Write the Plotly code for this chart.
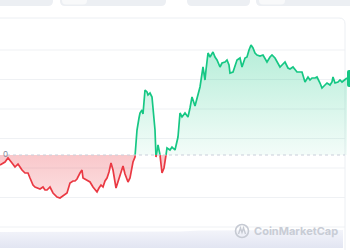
import plotly.graph_objects as go

# ---- data ----
t = [0, 3, 5, 8, 10, 12, 15, 18, 20, 22, 25, 28, 30, 33, 35, 37, 40, 43, 45, 47,
     50, 53, 55, 57, 60, 63, 65, 67, 70, 73, 75, 77, 80, 82, 83, 85, 87, 90, 93, 95,
     97, 99, 101, 103, 105, 107, 109, 111, 113, 116, 118, 120, 123, 125, 128, 130, 133, 135, 136, 137,
     139, 140, 142, 143, 145, 147, 148, 150, 152, 154, 155, 156, 158, 160, 162, 164, 166, 167, 170, 172,
     175, 177, 178, 180, 182, 185, 188, 190, 192, 195, 198, 200, 203, 205, 206, 208, 210, 213, 215, 217,
     220, 222, 225, 227, 229, 230, 233, 235, 237, 240, 242, 245, 247, 249, 251, 253, 255, 257, 260, 263,
     265, 267, 270, 272, 275, 277, 280, 283, 285, 288, 290, 293, 297, 300, 302, 305, 308, 310, 312, 315,
     317, 320, 322, 325, 327, 330, 332, 333, 335, 338, 340, 342, 345, 347]
price = [85, 87, 88, 92, 90, 87, 83, 86, 83, 80, 77, 77, 72, 65, 63, 62, 61, 63, 60, 60,
         63, 57, 55, 53, 52, 54, 55, 57, 67, 69, 69, 71, 77, 80, 72, 71, 70, 68, 63, 61,
         58, 62, 65, 63, 69, 72, 78, 87, 80, 62, 68, 76, 84, 76, 68, 72, 88, 93, 110, 120,
         132, 137, 140, 136, 160, 158, 155, 157, 153, 135, 120, 93, 105, 95, 77, 82, 95, 102, 100, 103,
         100, 110, 113, 137, 133, 137, 133, 142, 153, 144, 155, 163, 183, 170, 180, 197, 193, 198, 193, 190,
         183, 187, 188, 190, 185, 177, 178, 184, 190, 192, 183, 192, 193, 200, 205, 202, 197, 195, 194, 195,
         191, 188, 193, 195, 192, 188, 183, 186, 188, 182, 181, 183, 178, 178, 178, 168, 173, 170, 172, 172,
         173, 167, 162, 165, 167, 165, 168, 173, 167, 168, 170, 168, 170, 172]
open_price = 95
grid_vals = [200, 170.5, 141, 111.5, 82, 52.5, 23]
nav_t = [0, 60, 120, 180, 200, 240, 300, 343]
nav_top = [18, 18, 18.5, 18.5, 19.5, 20, 20, 20]
nav_bottom = 2
open_label = "0"

GREEN = "#16c784"
RED = "#ea3943"

# insert baseline crossings so colours switch exactly at the open price
xs, ys = [t[0]], [price[0]]
for i in range(1, len(t)):
    x0, y0, x1, y1 = t[i - 1], price[i - 1], t[i], price[i]
    if (y0 - open_price) * (y1 - open_price) < 0:
        xc = x0 + (open_price - y0) * (x1 - x0) / (y1 - y0)
        xs.append(xc)
        ys.append(open_price)
    xs.append(x1)
    ys.append(y1)

up = [max(v, open_price) for v in ys]
dn = [min(v, open_price) for v in ys]
up_line = [v if v >= open_price else None for v in ys]
dn_line = [v if v <= open_price else None for v in ys]
base = [open_price] * len(xs)

fig = go.Figure()

# navigator strip at bottom
fig.add_trace(go.Scatter(x=nav_t, y=[nav_bottom] * len(nav_t), mode="lines",
                         line=dict(width=0), hoverinfo="skip", showlegend=False))
fig.add_trace(go.Scatter(x=nav_t, y=nav_top, mode="lines", line=dict(width=0),
                         fill="tonexty",
                         fillgradient=dict(type="vertical",
                                           colorscale=[[0, "#e2e5f2"], [1, "#f3f4fa"]]),
                         hoverinfo="skip", showlegend=False))

# green fill above open
fig.add_trace(go.Scatter(x=xs, y=base, mode="lines", line=dict(width=0),
                         hoverinfo="skip", showlegend=False))
fig.add_trace(go.Scatter(x=xs, y=up, mode="lines", line=dict(width=0), fill="tonexty",
                         fillgradient=dict(type="vertical", start=open_price, stop=max(price),
                                           colorscale=[[0, "rgba(22,199,132,0.05)"],
                                                       [1, "rgba(22,199,132,0.32)"]]),
                         hoverinfo="skip", showlegend=False))
# red fill below open
fig.add_trace(go.Scatter(x=xs, y=base, mode="lines", line=dict(width=0),
                         hoverinfo="skip", showlegend=False))
fig.add_trace(go.Scatter(x=xs, y=dn, mode="lines", line=dict(width=0), fill="tonexty",
                         fillgradient=dict(type="vertical", start=min(price), stop=open_price,
                                           colorscale=[[0, "rgba(234,57,67,0.16)"],
                                                       [1, "rgba(234,57,67,0.28)"]]),
                         hoverinfo="skip", showlegend=False))

# lines
fig.add_trace(go.Scatter(x=xs, y=up_line, mode="lines", connectgaps=False,
                         line=dict(color=GREEN, width=1.7), showlegend=False))
fig.add_trace(go.Scatter(x=xs, y=dn_line, mode="lines", connectgaps=False,
                         line=dict(color=RED, width=1.7), showlegend=False))

shapes = []
# grid lines
for g in grid_vals:
    shapes.append(dict(type="line", x0=0, x1=345, y0=g, y1=g, layer="below",
                       line=dict(color="#eff1f4", width=1)))
# dotted open-price line
shapes.append(dict(type="line", x0=7, x1=345, y0=open_price, y1=open_price, layer="above",
                   line=dict(color="#c9cfda", width=1, dash="dot")))
# card border (top + rounded right corner)
shapes.append(dict(type="path", path="M -2 232 L 339 232 Q 345 232 345 226 L 345 0",
                   line=dict(color="#eceff3", width=1), layer="below"))


def pill(x0, x1, y0, y1, r, color):
    return dict(type="path",
                path=f"M {x0} {y1} L {x0} {y0 + r} Q {x0} {y0} {x0 + r} {y0} "
                     f"L {x1 - r} {y0} Q {x1} {y0} {x1} {y0 + r} L {x1} {y1} Z",
                fillcolor=color, line=dict(width=0), layer="above")


# top button groups (cut off)
shapes.append(pill(-6, 53, 244, 256, 5, "#eceff3"))
shapes.append(pill(60, 166, 244, 256, 5, "#eceff3"))
shapes.append(pill(62, 87, 245.5, 256, 4, "#f8f9fa"))
shapes.append(pill(187, 250, 244, 256, 5, "#eceff3"))
shapes.append(pill(256, 356, 244, 256, 5, "#eceff3"))
shapes.append(pill(259, 285, 245.5, 256, 4, "#f8f9fa"))
# current price tag
shapes.append(dict(type="path", path="M 352 163 L 349 163 Q 347 163 347 165 L 347 178 Q 347 180 349 180 L 352 180 Z",
                   fillcolor=GREEN, line=dict(width=0), layer="above"))
# watermark logo
shapes.append(dict(type="circle", x0=235.5, x1=248.5, y0=12.5, y1=25.5,
                   line=dict(color="#c6cad3", width=1.6), layer="above"))
shapes.append(dict(type="path", path="M 238.5 16 L 240.5 22 L 242 17.5 L 243.5 22 L 245.5 16",
                   line=dict(color="#c6cad3", width=1.4), layer="above"))

annotations = [
    dict(x=252, y=19, xref="x", yref="y", text="<b>CoinMarketCap</b>", showarrow=False,
         xanchor="left", yanchor="middle",
         font=dict(family="Inter", size=11, color="#c8ccd5")),
    dict(x=0.5, y=96, xref="x", yref="y", text=open_label, showarrow=False,
         xanchor="left", yanchor="middle",
         font=dict(family="Inter", size=8, color="#808a9d")),
]

fig.update_layout(
    width=350, height=250, margin=dict(l=0, r=0, t=0, b=0),
    paper_bgcolor="white", plot_bgcolor="white",
    xaxis=dict(range=[0, 350], visible=False, fixedrange=True),
    yaxis=dict(range=[0, 250], visible=False, fixedrange=True),
    shapes=shapes, annotations=annotations, showlegend=False,
)

fig.write_html("out.html")
